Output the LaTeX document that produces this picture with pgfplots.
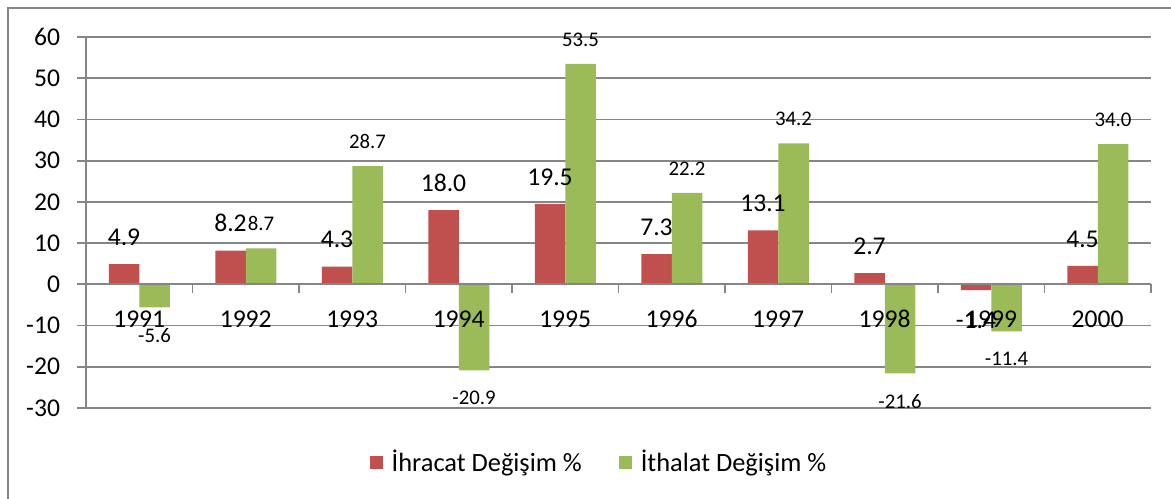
\documentclass[border=0pt]{standalone}
\usepackage{pgfplots}
\usepackage{pgfplotstable}
\pgfplotsset{compat=1.18}
\usepackage{fontspec}
\setmainfont{Carlito}

\definecolor{exportred}{RGB}{192,80,77}
\definecolor{importgreen}{RGB}{155,187,89}
\definecolor{axisgray}{RGB}{134,134,134}

% yearly change in exports and imports, %
\pgfplotstableread{
year exports imports
1991  4.9  -5.6
1992  8.2   8.7
1993  4.3  28.7
1994 18.0 -20.9
1995 19.5  53.5
1996  7.3  22.2
1997 13.1  34.2
1998  2.7 -21.6
1999 -1.4 -11.4
2000  4.5  34.0
}\tradedata

\begin{document}
\begin{tikzpicture}
% chart frame
\draw[axisgray, line width=0.75pt] (4pt,-300pt) -- (4pt,-4pt) -- (620pt,-4pt);
\begin{axis}[
  at={(43pt,-18.5pt)}, anchor=north west,
  scale only axis, width=532.5pt, height=185.5pt,
  set layers=standard,
  % bars sit above the grid but below the category labels
  every axis plot/.append style={/pgfplots/on layer=axis ticks},
  ybar=0pt, bar width=15.25pt,
  xmin=1990.5, xmax=2000.5, ymin=-30, ymax=60,
  axis x line*=middle, axis y line*=left,
  hide obscured x ticks=false, hide obscured y ticks=false,
  xtick={1990.5,1991.5,...,2000.5},
  x tick label as interval,
  xticklabels={1991,1992,1993,1994,1995,1996,1997,1998,1999,2000},
  ytick={-30,-20,...,60},
  tick align=outside,
  major tick length=4.5pt,
  tick style={axisgray, line width=0.85pt},
  axis line style={axisgray, line width=0.85pt},
  ymajorgrids,
  major grid style={axisgray, line width=0.85pt},
  /pgf/number format/assume math mode=true,
  tick label style={font=\fontsize{12.8}{15}\selectfont, black},
  x tick label style={fill=none, yshift=-5pt},
  y tick label style={xshift=-5pt},
  nodes near coords={\pgfmathprintnumber[fixed, fixed zerofill, precision=1]{\pgfplotspointmeta}},
  legend style={at={(0.4826,0)}, anchor=center, yshift=-27.15pt,
    draw=none, fill=none, legend columns=2,
    font=\fontsize{13.2}{15}\selectfont,
    /tikz/every even column/.append style={column sep=16.5pt}},
  legend image code/.code={\fill[#1] (0pt,-3.25pt) rectangle (6.5pt,3.25pt); \path (9pt,0pt);},
]
\addplot[fill=exportred, draw=none,
  every node near coord/.append style={font=\fontsize{12.8}{15}\selectfont,
    inner xsep=0pt, inner ysep=10pt, yshift=-1pt}]
  table[x=year, y=exports] {\tradedata};
\addplot[fill=importgreen, draw=none,
  every node near coord/.append style={font=\fontsize{10.4}{12}\selectfont,
    inner xsep=0pt, inner ysep=9.4pt, yshift=-0.9pt}]
  table[x=year, y=imports] {\tradedata};
\legend{İhracat Değişim \%, İthalat Değişim \%}
% category separators below the zero line
\pgfplotsinvokeforeach{0,...,10}{
  \draw[axisgray, line width=0.85pt] (axis cs:{1990.5+#1},0) -- ++(0pt,-4.5pt);
}
\end{axis}
\pgfresetboundingbox
\useasboundingbox (0,0) rectangle (585.5pt,-249pt);
\end{tikzpicture}
\end{document}
